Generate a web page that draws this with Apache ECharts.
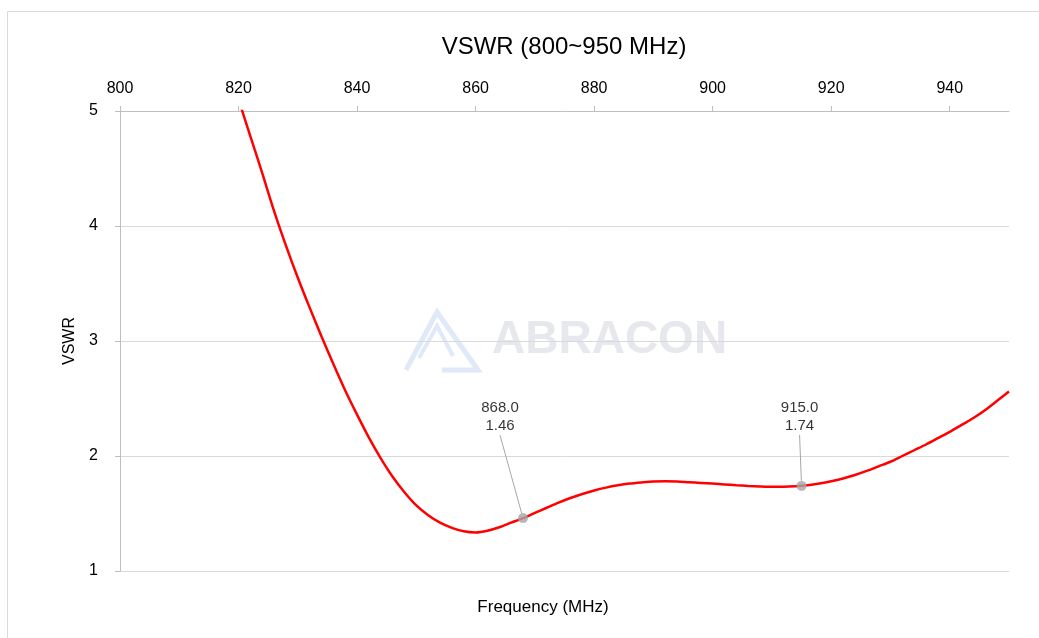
<!DOCTYPE html>
<html>
<head>
<meta charset="utf-8">
<script src="https://cdn.jsdelivr.net/npm/echarts@6/dist/echarts.min.js"></script>
<style>
  html, body { margin: 0; padding: 0; background: #fff; }
  #chart { width: 1039px; height: 638px; }
</style>
</head>
<body>
<div id="chart"></div>
<script>
// frequency (MHz) and VSWR, every 2 MHz
var freqs = [820, 822, 824, 826, 828, 830, 832, 834, 836, 838, 840, 842, 844, 846, 848, 850,
  852, 854, 856, 858, 860, 862, 864, 866, 868, 870, 872, 874, 876, 878, 880, 882, 884, 886,
  888, 890, 892, 894, 896, 898, 900, 902, 904, 906, 908, 910, 912, 914, 916, 918, 920, 922,
  924, 926, 928, 930, 932, 934, 936, 938, 940, 942, 944, 946, 948, 950];
var vswr = [5.10, 4.78, 4.46, 4.13, 3.83, 3.55, 3.29, 3.04, 2.80, 2.57, 2.36, 2.16, 1.98, 1.82, 1.685, 1.57,
  1.485, 1.42, 1.375, 1.345, 1.335, 1.35, 1.38, 1.42, 1.46, 1.505, 1.55, 1.595, 1.635, 1.67, 1.70, 1.725, 1.745, 1.76,
  1.77, 1.778, 1.78, 1.778, 1.772, 1.766, 1.76, 1.753, 1.746, 1.74, 1.735, 1.732, 1.732, 1.736, 1.745, 1.76, 1.78, 1.805,
  1.835, 1.87, 1.91, 1.95, 2.00, 2.05, 2.10, 2.155, 2.21, 2.27, 2.33, 2.40, 2.48, 2.56];

// marked points
var markFreqs = [868.0, 915.0];
var markVswr = [1.46, 1.74];

var lineData = freqs.map(function (f, i) { return [f, vswr[i]]; });
var markData = markFreqs.map(function (f, i) { return [f, markVswr[i]]; });

var font = '"Liberation Sans", Arial, sans-serif';

var chart = echarts.init(document.getElementById('chart'));
var option = {
  animation: false,
  title: [
    {
      text: 'VSWR (800~950 MHz)',
      left: 559, top: 30, textAlign: 'center',
      textStyle: { fontFamily: font, fontSize: 24, fontWeight: 'normal', color: '#000' }
    },
    {
      text: 'Frequency (MHz)',
      left: 538, top: 594, textAlign: 'center',
      textStyle: { fontFamily: font, fontSize: 17, fontWeight: 'normal', color: '#000' }
    }
  ],
  graphic: [
    {
      type: 'rect', left: 5, top: 9, silent: true,
      shape: { width: 1040, height: 640 },
      style: { fill: 'none', stroke: '#d9d9d9', lineWidth: 1 }
    },
    {
      type: 'text', left: 492, top: 317, silent: true, z: -1,
      style: { text: 'ABRACON', fontFamily: font, fontSize: 46, fontWeight: 'bold', fill: '#e6e8ed' }
    },
    {
      type: 'polyline', silent: true, z: -1,
      shape: { points: [[406, 370], [437, 312], [478, 370], [442, 370]] },
      style: { fill: 'none', stroke: '#dfe9f8', lineWidth: 5 }
    },
    {
      type: 'polyline', silent: true, z: -1,
      shape: { points: [[419, 358], [437, 326], [453, 356]] },
      style: { fill: 'none', stroke: '#dfe9f8', lineWidth: 4 }
    }
  ],
  grid: { left: 120, right: 30, top: 111, bottom: 67 },
  xAxis: {
    type: 'value',
    position: 'top',
    min: 800, max: 950, interval: 20,
    axisLine: { show: true, lineStyle: { color: '#bfbfbf' } },
    axisTick: { show: true, length: 5, lineStyle: { color: '#bfbfbf' } },
    axisLabel: { showMaxLabel: false, margin: 14, fontFamily: font, fontSize: 16, color: '#000' },
    splitLine: { show: false }
  },
  yAxis: {
    type: 'value',
    min: 1, max: 5, interval: 1,
    name: 'VSWR', nameLocation: 'middle', nameGap: 42, nameRotate: 90,
    nameTextStyle: { fontFamily: font, fontSize: 16, color: '#000' },
    axisLine: { show: true, lineStyle: { color: '#bfbfbf' } },
    axisTick: { show: true, length: 5, lineStyle: { color: '#bfbfbf' } },
    axisLabel: { margin: 22, fontFamily: font, fontSize: 16, color: '#000' },
    splitLine: { show: true, lineStyle: { color: '#d9d9d9' } }
  },
  series: [
    {
      type: 'line',
      data: lineData,
      smooth: 0.3,
      showSymbol: false,
      clip: true,
      lineStyle: { color: '#ff0000', width: 2.5 }
    },
    {
      type: 'scatter',
      data: markData,
      symbolSize: 10,
      itemStyle: { color: '#a6a6a6' },
      z: 5,
      label: {
        show: true,
        position: 'top',
        formatter: function (p) { return p.value[0].toFixed(1) + '\n' + p.value[1].toFixed(2); },
        fontFamily: font, fontSize: 15, lineHeight: 18, color: '#000'
      },
      labelLine: { show: true, lineStyle: { color: '#a6a6a6', width: 1 } },
      labelLayout: function (p) {
        return p.dataIndex === 0 ? { dx: -23, dy: -73 } : { dx: -2, dy: -41 };
      }
    }
  ]
};
chart.setOption(option);
</script>
</body>
</html>
